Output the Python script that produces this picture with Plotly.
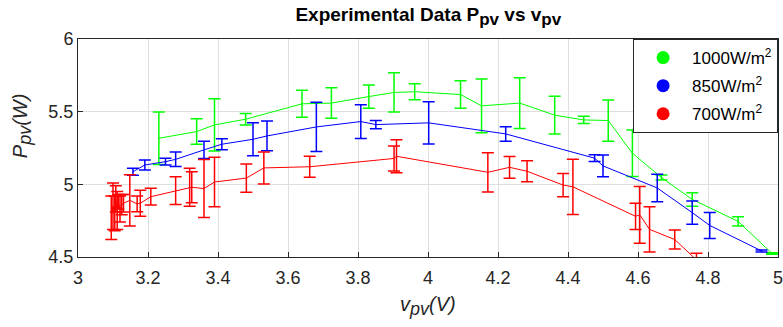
import plotly.graph_objects as go

# 1000 W/m^2
v_1000 = [3.231, 3.339, 3.390, 3.479, 3.640, 3.724, 3.831, 3.903, 3.962, 4.093,
          4.153, 4.262, 4.362, 4.445, 4.515, 4.584, 4.667, 4.755, 4.886, 4.983]
p_1000 = [5.317, 5.363, 5.409, 5.448, 5.554, 5.559, 5.604, 5.632, 5.637, 5.618,
          5.540, 5.559, 5.476, 5.443, 5.439, 5.214, 5.047, 4.896, 4.745, 4.524]
e_1000 = [0.180, 0.088, 0.180, 0.040, 0.093, 0.105, 0.080, 0.135, 0.055, 0.095,
          0.185, 0.175, 0.130, 0.025, 0.142, 0.160, 0.017, 0.046, 0.032, 0.005]

# 850 W/m^2
v_850 = [3.157, 3.191, 3.250, 3.279, 3.360, 3.411, 3.500, 3.540, 3.681, 3.808,
         3.851, 4.002, 4.222, 4.476, 4.500, 4.655, 4.755, 4.805, 4.953]
p_850 = [5.087, 5.133, 5.156, 5.172, 5.237, 5.276, 5.310, 5.333, 5.395, 5.432,
         5.411, 5.423, 5.347, 5.180, 5.127, 4.975, 4.805, 4.717, 4.542]
e_850 = [0.024, 0.035, 0.023, 0.050, 0.060, 0.038, 0.114, 0.102, 0.169, 0.116,
         0.028, 0.145, 0.050, 0.023, 0.075, 0.095, 0.080, 0.090, 0.007]

# 700 W/m^2
v_700 = [3.095, 3.100, 3.105, 3.108, 3.112, 3.115, 3.120, 3.125, 3.130, 3.148,
         3.169, 3.178, 3.208, 3.279, 3.319, 3.325, 3.360, 3.390, 3.481, 3.531,
         3.662, 3.903, 3.910, 4.171, 4.233, 4.283, 4.386, 4.414, 4.593, 4.605,
         4.633, 4.705, 4.767]
p_700 = [4.770, 4.850, 4.800, 4.900, 4.820, 4.880, 4.830, 4.860, 4.870, 4.890,
         4.865, 4.870, 4.915, 4.957, 4.980, 4.980, 4.971, 5.016, 5.043, 5.113,
         5.121, 5.178, 5.193, 5.083, 5.117, 5.090, 4.995, 4.983, 4.780, 4.790,
         4.690, 4.620, 4.480]
e_700 = [0.150, 0.160, 0.120, 0.090, 0.130, 0.050, 0.090, 0.070, 0.060, 0.176,
         0.054, 0.090, 0.058, 0.095, 0.130, 0.107, 0.200, 0.170, 0.097, 0.110,
         0.072, 0.086, 0.113, 0.135, 0.075, 0.073, 0.080, 0.190, 0.090, 0.195,
         0.155, 0.065, 0.045]

labels = ["1000W/m<sup>2</sup>", "850W/m<sup>2</sup>", "700W/m<sup>2</sup>"]
colors = ["#00ff00", "#0000ff", "#ff0000"]
series = [(v_1000, p_1000, e_1000), (v_850, p_850, e_850), (v_700, p_700, e_700)]

x_ticks = [3, 3.2, 3.4, 3.6, 3.8, 4, 4.2, 4.4, 4.6, 4.8, 5]
y_ticks = [4.5, 5, 5.5, 6]

FONT = "Liberation Sans, Arial, sans-serif"

fig = go.Figure()
for (vx, py, ey), c in zip(series, colors):
    fig.add_trace(go.Scatter(
        x=vx, y=py, mode="lines", line=dict(color=c, width=1),
        error_y=dict(type="data", array=ey, visible=True, color=c,
                     thickness=1.5, width=6),
        showlegend=False, cliponaxis=True))
for i, (lab, c) in enumerate(zip(labels, colors)):
    fig.add_trace(go.Scatter(
        x=[None], y=[None], mode="markers", name=lab, legendgroup=f"g{i}",
        marker=dict(color=c, size=13, symbol="circle")))

axis_common = dict(
    showgrid=True, gridcolor="#dfdfdf", gridwidth=1,
    showline=True, linecolor="#262626", linewidth=1, mirror=True,
    ticks="inside", ticklen=5, tickcolor="#262626", zeroline=False,
    tickfont=dict(family=FONT, size=18, color="#262626"),
    ticklabeloverflow="allow", automargin=False,
)

def sub(t, size):
    return f"<sub><span style='font-size:{size}px'>{t}</span></sub>"

fig.update_layout(
    width=783, height=327,
    margin=dict(l=78, r=5, t=39, b=70),
    paper_bgcolor="white", plot_bgcolor="white",
    title=dict(text=f"<b>Experimental Data P{sub('pv', 17)} vs v{sub('pv', 17)}</b>",
               x=0.547, xanchor="center", y=0.955, yanchor="middle",
               font=dict(family=FONT, size=19, color="black")),
    xaxis=dict(range=[3, 5], tickvals=x_ticks, ticktext=[f"{t:g}" for t in x_ticks],
               ticklabelstandoff=4, **axis_common),
    yaxis=dict(range=[4.5, 6], tickvals=y_ticks, ticktext=[f"{t:g}" for t in y_ticks],
               **axis_common),
    legend=dict(x=0.793, y=1, xanchor="left", yanchor="top",
                bgcolor="white", bordercolor="#262626", borderwidth=1,
                font=dict(family=FONT, size=17, color="black"),
                itemsizing="trace", traceorder="grouped", tracegroupgap=3,
                itemwidth=48),
    annotations=[
        dict(text=f"<i>v{sub('pv', 18)}(V)</i>", xref="paper", yref="paper",
             x=0.5, y=-0.225, xanchor="center", yanchor="middle", showarrow=False,
             font=dict(family=FONT, size=20, color="#262626")),
        dict(text=f"<i>P{sub('pv', 18)}(W)</i>", xref="paper", yref="paper",
             x=-0.08, y=0.6, xanchor="center", yanchor="middle", showarrow=False,
             textangle=-90, font=dict(family=FONT, size=20, color="#262626")),
    ],
)

fig.write_html("out.html")
